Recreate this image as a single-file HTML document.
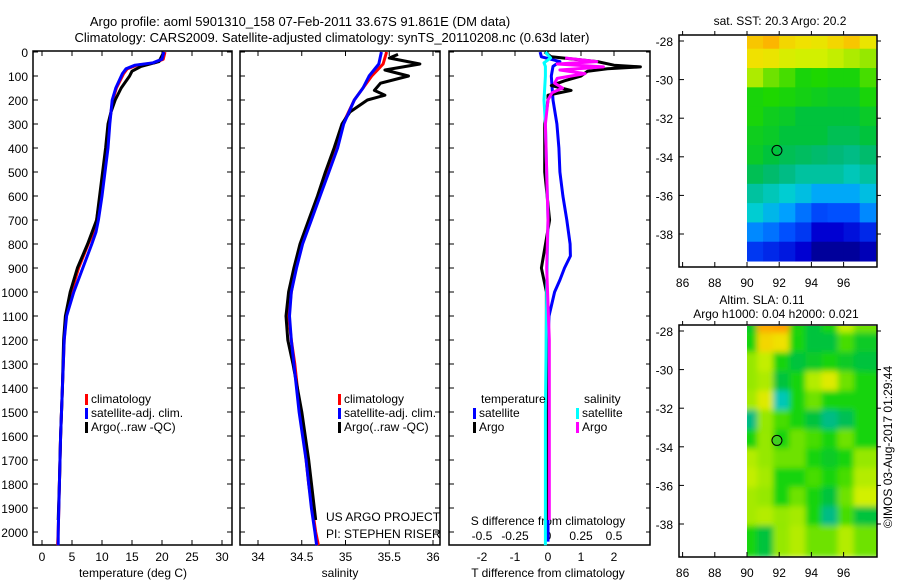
<!DOCTYPE html>
<html><head><meta charset="utf-8"><style>
html,body{margin:0;padding:0;background:#fff;}
svg{display:block;font-family:"Liberation Sans",sans-serif;}
</style></head><body>
<svg id="chart" width="900" height="580" viewBox="0 0 900 580" xmlns="http://www.w3.org/2000/svg">
<defs>
<filter id="blur" x="0" y="0" width="100%" height="100%"><feGaussianBlur stdDeviation="3"/></filter>
<clipPath id="clip1"><rect x="747" y="36" width="130" height="231"/></clipPath>
<clipPath id="clip2"><rect x="747" y="326" width="130" height="231"/></clipPath>
</defs>
<text x="300" y="26" font-size="13" text-anchor="middle">Argo profile: aoml 5901310_158 07-Feb-2011 33.67S 91.861E (DM data)</text>
<text x="332" y="42" font-size="13" text-anchor="middle">Climatology: CARS2009. Satellite-adjusted climatology: synTS_20110208.nc (0.63d later)</text>
<g id="g"></g>
</svg>
<script>
// ---- data ----
const tempClimDepth = [0,30,45,55,70,90,150,200,250,300,400,500,600,700,750,800,900,1000,1100,1200,1400,1600,1800,2000,2055];
const tempClim =      [20.5,20.2,18.8,15.8,14.2,13.6,12.4,11.8,11.5,11.2,10.8,10.3,9.7,9.1,8.6,7.7,6.1,4.9,4.0,3.7,3.4,3.1,2.9,2.7,2.6];
const tempSat =       [20.3,20.0,18.5,15.5,14.0,13.4,12.3,11.7,11.5,11.3,11.0,10.5,10.0,9.4,9.0,8.3,6.8,5.3,4.1,3.7,3.4,3.1,2.9,2.7,2.7];
const tempArgoDepth = [0,40,60,80,100,150,200,250,300,400,500,600,700,800,900,1000,1100,1200,1400,1600,1800,1950];
const tempArgo =      [20.3,19.5,16.5,15.0,14.6,13.2,12.2,11.5,11.0,10.6,10.1,9.6,9.1,7.6,5.9,4.7,3.9,3.6,3.4,3.1,2.9,2.7];
const salClimDepth = [0,50,100,150,200,300,400,500,600,700,800,900,1000,1100,1200,1300,1400,1500,1600,1700,1800,1900,2000,2055];
const salClim =      [35.47,35.43,35.3,35.2,35.1,34.97,34.9,34.8,34.7,34.6,34.5,34.43,34.38,34.35,34.38,34.42,34.45,34.48,34.52,34.55,34.58,34.62,34.66,34.69];
const salSat =       [35.41,35.38,35.27,35.2,35.1,34.98,34.91,34.81,34.71,34.61,34.51,34.44,34.38,34.36,34.38,34.41,34.44,34.47,34.51,34.55,34.58,34.61,34.65,34.67];
const salArgoDepth = [10,25,50,75,100,130,160,180,200,250,300,400,500,600,700,800,900,1000,1100,1200,1300,1500,1700,1950];
const salArgo =      [35.6,35.5,35.85,35.45,35.72,35.4,35.33,35.45,35.25,35.05,34.96,34.87,34.77,34.68,34.58,34.48,34.41,34.35,34.32,34.34,34.4,34.5,34.58,34.66];
const dTsatDepth = [0,20,40,60,100,200,300,400,500,600,700,800,850,900,950,1000,1100,1200,1500,2000,2040];
const dTsat =      [-0.24,-0.2,0.36,0.15,0.1,0.15,0.27,0.33,0.36,0.45,0.57,0.67,0.68,0.5,0.36,0.2,0.03,0.0,0.0,0.0,0.0];
const dTargoDepth = [0,20,40,55,62,70,80,100,120,140,160,180,200,300,500,700,900,1000,1500,1950];
const dTargo =      [-0.1,0.1,1.5,2.0,2.8,1.8,1.2,1.0,0.5,0.1,0.7,0.0,0.0,-0.1,-0.1,0.05,-0.2,-0.05,-0.05,0.0];
const dSsatDepth = [0,25,45,60,100,200,300,500,700,1000,1500,2000,2055];
const dSsat =      [-0.02,0.02,-0.03,-0.02,-0.02,-0.03,-0.02,-0.01,0.0,-0.01,-0.02,-0.02,-0.02];
const dSargoDepth = [25,40,50,62,75,90,110,130,150,170,200,300,500,700,900,1200,1600,1950];
const dSargo =      [0.13,0.37,0.07,0.42,0.09,0.28,0.07,0.05,0.11,0.03,0.0,-0.02,-0.01,0.0,-0.01,0.01,0.01,0.01];
const depthTicks = [0,100,200,300,400,500,600,700,800,900,1000,1100,1200,1300,1400,1500,1600,1700,1800,1900,2000];
const tempTicks = [0,5,10,15,20,25,30];
const salTicks = [34,34.5,35,35.5,36];
const dTTicks = [-2,-1,0,1,2];
const dSTicks = [-0.5,-0.25,0,0.25,0.5];
const lonTicks = [86,88,90,92,94,96];
const latTicks = [-28,-30,-32,-34,-36,-38];
// map grids: rows lat -28..-39, cols lon 90..97 (normalized colour value)
const sstGrid = [
[.85,.88,.82,.8,.78,.82,.85,.78],
[.8,.78,.72,.7,.7,.68,.65,.62],
[.65,.6,.58,.55,.56,.55,.55,.58],
[.55,.56,.55,.54,.53,.52,.52,.55],
[.55,.53,.52,.5,.5,.5,.5,.52],
[.53,.52,.5,.5,.5,.48,.48,.5],
[.52,.5,.48,.47,.46,.45,.44,.46],
[.48,.46,.44,.42,.42,.42,.4,.42],
[.42,.4,.38,.36,.33,.33,.33,.36],
[.38,.35,.32,.28,.24,.25,.25,.3],
[.3,.28,.25,.22,.15,.15,.17,.2],
[.22,.2,.18,.15,.05,.05,.05,.1]];
const slaGrid = [
[.52,.9,.92,.55,.5,.55,.68,.6],
[.55,.82,.8,.55,.5,.5,.58,.52],
[.62,.68,.55,.5,.52,.55,.52,.5],
[.62,.65,.5,.55,.66,.74,.6,.55],
[.64,.74,.4,.55,.6,.55,.55,.55],
[.44,.62,.58,.55,.5,.44,.48,.55],
[.55,.62,.55,.6,.58,.55,.6,.55],
[.66,.62,.6,.6,.55,.52,.55,.62],
[.68,.64,.55,.55,.58,.55,.58,.66],
[.64,.62,.55,.6,.55,.5,.6,.7],
[.64,.66,.62,.64,.55,.44,.58,.5],
[.55,.5,.62,.66,.6,.6,.66,.6]];

// ---- helpers ----
const NS='http://www.w3.org/2000/svg';
const G=document.getElementById('g');
function mk(tag,attrs,parent){const e=document.createElementNS(NS,tag);for(const k in attrs)e.setAttribute(k,attrs[k]);(parent||G).appendChild(e);return e;}
const yD=d=>52+0.24*d;
const xT=v=>42+6*v;
const xS=v=>258+87.5*(v-34);
const xDT=v=>548+33*v;
const xDS=v=>548+132*v;
const lonX=(lon)=>747+16.1*(lon-90);
const latY=(lat,top)=>top+6+19.3*(-28-lat);

function line(depths,vals,xf,color,name,w){
  const pts=depths.map((d,i)=>xf(vals[i]).toFixed(1)+','+yD(d).toFixed(1)).join(' ');
  const p=mk('polyline',{points:pts,fill:'none',stroke:color,'stroke-width':w||3,'stroke-linejoin':'round'});
  
  
}
function txt(x,y,s,anchor,size,name){
  const t=mk('text',{x:x,y:y,'font-size':size||12,'text-anchor':anchor||'start'});t.textContent=s;
  
  
  return t;
}
function box(x1,y1,x2,y2,name){
  const r=mk('rect',{x:x1,y:y1,width:x2-x1,height:y2-y1,fill:'none',stroke:'#000','stroke-width':1.5});
  
  
}
function legend(x,y,color,label,name){
  const r=mk('rect',{x:x,y:y-9,width:3,height:11,fill:color});
  
  
  if(label) txt(x+6,y,label,'start',12,name+'-label');
}

// ---- profile panels ----
const TOP=52,BOT=545;
const panels=[[33,232,'temperature-panel'],[240,440,'salinity-panel'],[449,650,'difference-panel']];
panels.forEach(p=>box(p[0],TOP-1,p[1],BOT,p[2]+'-frame'));
depthTicks.forEach(d=>{
  txt(28,yD(d)+5,String(d),'end',12,'depth-tick-label');
  panels.forEach((p,i)=>{
    mk('line',{x1:p[0],x2:p[0]+5,y1:yD(d),y2:yD(d),stroke:'#000'});
    if(i<2) mk('line',{x1:p[1]-5,x2:p[1],y1:yD(d),y2:yD(d),stroke:'#000'});
    else mk('line',{x1:p[1]-4,x2:p[1],y1:yD(d),y2:yD(d),stroke:'#000'});
  });
});
tempTicks.forEach(v=>{const x=xT(v);mk('line',{x1:x,x2:x,y1:BOT,y2:BOT-5,stroke:'#000'});mk('line',{x1:x,x2:x,y1:TOP-1,y2:TOP+4,stroke:'#000'});txt(x,561,String(v),'middle',12,'temperature-tick-label');});
salTicks.forEach(v=>{const x=xS(v);mk('line',{x1:x,x2:x,y1:BOT,y2:BOT-5,stroke:'#000'});mk('line',{x1:x,x2:x,y1:TOP-1,y2:TOP+4,stroke:'#000'});txt(x,561,String(v),'middle',12,'salinity-tick-label');});
dTTicks.forEach(v=>{const x=xDT(v);mk('line',{x1:x,x2:x,y1:TOP-1,y2:TOP+4,stroke:'#000'});txt(x,561,String(v),'middle',12,'t-difference-tick-label');});
dSTicks.forEach(v=>{txt(xDS(v),540,String(v),'middle',12,'s-difference-tick-label');});
txt(133,577,'temperature (deg C)','middle',12,'temperature-axis-title');
txt(340,577,'salinity','middle',12,'salinity-axis-title');
txt(548,577,'T difference from climatology','middle',12,'t-difference-axis-title');
txt(548,525,'S difference from climatology','middle',12,'s-difference-axis-title');

line(tempClimDepth,tempClim,xT,'#f00','temperature-climatology-line');
line(tempArgoDepth,tempArgo,xT,'#000','temperature-argo-line');
line(tempClimDepth,tempSat,xT,'#00f','temperature-satellite-line');
line(salClimDepth,salClim,xS,'#f00','salinity-climatology-line');
line(salArgoDepth,salArgo,xS,'#000','salinity-argo-line');
line(salClimDepth,salSat,xS,'#00f','salinity-satellite-line');
line(dTsatDepth,dTsat,xDT,'#00f','t-difference-satellite-line');
line(dTargoDepth,dTargo,xDT,'#000','t-difference-argo-line');
line(dSsatDepth,dSsat,xDS,'#0ff','s-difference-satellite-line');
line(dSargoDepth,dSargo,xDS,'#f0f','s-difference-argo-line');

legend(85,403,'#f00','climatology','legend-climatology-1');
legend(85,417,'#00f','satellite-adj. clim.','legend-satellite-1');
legend(85,431,'#000','Argo(..raw -QC)','legend-argo-1');
legend(338,403,'#f00','climatology','legend-climatology-2');
legend(338,417,'#00f','satellite-adj. clim.','legend-satellite-2');
legend(338,431,'#000','Argo(..raw -QC)','legend-argo-2');
txt(481,403,'temperature','start',12,'legend-temperature-heading');
txt(584,403,'salinity','start',12,'legend-salinity-heading');
legend(473,417,'#00f','satellite','legend-t-satellite');
legend(473,431,'#000','Argo','legend-t-argo');
legend(576,417,'#0ff','satellite','legend-s-satellite');
legend(576,431,'#f0f','Argo','legend-s-argo');
txt(326,521,'US ARGO PROJECT','start',12,'project-credit');
txt(326,538,'PI: STEPHEN RISER','start',12,'pi-credit');

// ---- maps ----
const stops=[[0,[0,0,128]],[.15,[0,0,210]],[.25,[0,80,255]],[.32,[0,160,255]],[.38,[0,205,210]],[.45,[0,185,120]],[.5,[0,195,60]],[.56,[30,215,0]],[.62,[150,232,0]],[.7,[210,240,0]],[.8,[240,225,0]],[.9,[255,170,0]],[1,[255,120,0]]];
function cmap(v){for(let i=1;i<stops.length;i++){if(v<=stops[i][0]){const a=stops[i-1],b=stops[i],t=(v-a[0])/(b[0]-a[0]);return 'rgb('+a[1].map((c,k)=>Math.round(c+(b[1][k]-c)*t)).join(',')+')';}}return 'rgb(255,120,0)';}
function map(top,grid,name,clip,blur){
  const g=mk('g',{'clip-path':'url(#'+clip+')'});
  
  
  const inner=mk('g',blur?{filter:'url(#blur)'}:{},g);
  grid.forEach((row,r)=>row.forEach((v,c)=>{
    const x=lonX(90+c),y=latY(-27.7-r,top)-19.3*0.3;
    const cell=mk('rect',{x:x-(blur?6:0),y:y-(blur?6:0),width:16.6+(blur?12:0),height:19.8+(blur?12:0),fill:cmap(v)},inner);
    
    
  }));
  box(679,top,877,top+232,name+'-frame');
  lonTicks.forEach(l=>{const x=lonX(l);mk('line',{x1:x,x2:x,y1:top+232,y2:top+227,stroke:'#000'});mk('line',{x1:x,x2:x,y1:top,y2:top-4,stroke:'#000'});txt(x,top+252,String(l),'middle',12,name+'-lon-label');});
  latTicks.forEach(l=>{const y=latY(l,top);mk('line',{x1:679,x2:684,y1:y,y2:y,stroke:'#000'});mk('line',{x1:877,x2:881,y1:y,y2:y,stroke:'#000'});txt(673,y+5,String(l),'end',12,name+'-lat-label');});
  const c=mk('circle',{cx:lonX(91.86),cy:latY(-33.67,top),r:5,fill:blur?'#40d020':'none',stroke:'#000','stroke-width':1});
  
  
}
map(35,sstGrid,'sst-map','clip1',false);
map(325,slaGrid,'sla-map','clip2',true);
txt(780,25,'sat. SST: 20.3 Argo: 20.2','middle',12,'sst-map-title');
txt(762,304,'Altim. SLA: 0.11','middle',12,'sla-map-title');
txt(776,318,'Argo h1000: 0.04 h2000: 0.021','middle',12,'sla-map-subtitle');
const cr=txt(0,0,'©IMOS 03-Aug-2017 01:29:44','middle',12,'copyright-stamp');
cr.setAttribute('transform','translate(892,447) rotate(-90)');
</script>
</body></html>
